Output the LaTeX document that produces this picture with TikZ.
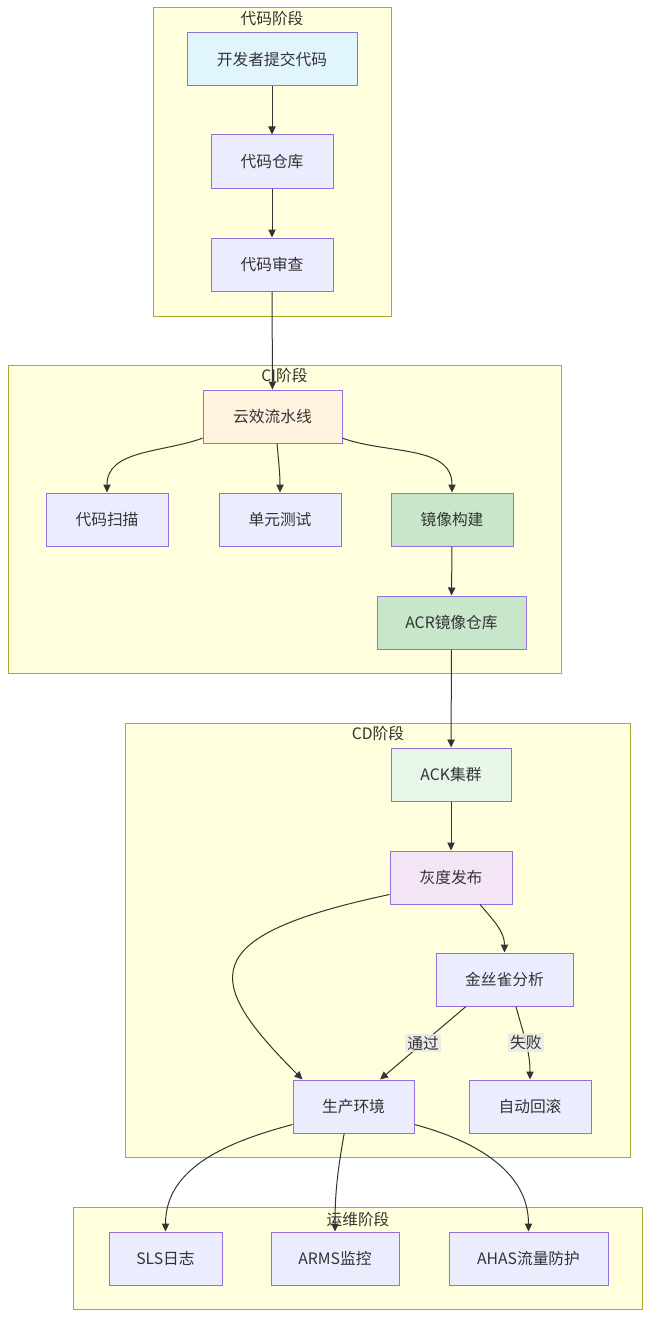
\documentclass[tikz,border=0pt]{standalone}
\usepackage{fontspec}
\setmainfont{Noto Sans CJK SC}
\usepackage{tikz}
\usetikzlibrary{arrows.meta, positioning}
\definecolor{grpfill}{RGB}{255,255,222}
\definecolor{grpdraw}{RGB}{170,170,51}
\definecolor{nodefill}{RGB}{236,236,255}
\definecolor{nodedraw}{RGB}{147,112,219}
\definecolor{hdrblue}{RGB}{225,245,254}
\definecolor{hdrorange}{RGB}{255,243,224}
\definecolor{hdrgreen}{RGB}{200,230,201}
\definecolor{hdrmint}{RGB}{232,245,233}
\definecolor{hdrpink}{RGB}{243,229,245}
\definecolor{mydark}{RGB}{51,51,51}
\definecolor{lblgray}{RGB}{232,232,232}
\tikzset{
  stage/.style={draw=grpdraw, fill=grpfill, line width=0.75pt},
  stagetitle/.style={inner sep=0pt, text=mydark},
  proc/.style={rectangle, draw=nodedraw, fill=nodefill,
    minimum width=91.5pt, minimum height=39.75pt,
    inner sep=0pt, text=mydark, line width=0.75pt},
  arrow/.style={-{Triangle[length=6pt, width=5.5pt]}, color=mydark, line width=0.75pt},
  elabel/.style={fill=lblgray, fill opacity=0.8, text opacity=1,
    inner sep=1.5pt, text=mydark}
}

\begin{document}
\begin{tikzpicture}[x=0.75pt, y=0.75pt, every node/.style={font=\fontsize{11.8}{14}\selectfont}]
  \useasboundingbox (0,0) rectangle (659,-1334);

  % stage boxes
  \draw[stage] (153,-8) rectangle (391,-316);
  \draw[stage] (8,-365) rectangle (561,-673);
  \draw[stage] (125,-723) rectangle (630,-1157);
  \draw[stage] (73,-1207) rectangle (642,-1309);
  \node[stagetitle] (t1) at (272,-18.5) {代码阶段};
  \node[stagetitle] (t2) at (284.5,-376) {CI阶段};
  \node[stagetitle] (t3) at (378,-733.5) {CD阶段};
  \node[stagetitle] (t4) at (358,-1219) {运维阶段};

  % code stage
  \node[proc, fill=hdrblue, minimum width=127.5pt] (dev) at (272,-59.5) {开发者提交代码};
  \node[proc] (repo) at (272,-161.5) {代码仓库};
  \node[proc] (review) at (272,-264.5) {代码审查};

  % CI stage
  \node[proc, fill=hdrorange, minimum width=104.25pt] (yx) at (272.5,-416.5) {云效流水线};
  \node[proc] (scan) at (107,-519.5) {代码扫描};
  \node[proc] (test) at (280,-519.5) {单元测试};
  \node[proc, fill=hdrgreen] (build) at (452,-519.5) {镜像构建};
  \node[proc, fill=hdrgreen, minimum width=111.75pt] (acr) at (451.5,-622.5) {ACR镜像仓库};

  % CD stage
  \node[proc, fill=hdrmint, minimum width=90pt] (ack) at (451,-774.5) {ACK集群};
  \node[proc, fill=hdrpink] (gray) at (451,-877.5) {灰度发布};
  \node[proc, minimum width=102.75pt] (canary) at (504.5,-979.5) {金丝雀分析};
  \node[proc, minimum width=90.75pt] (prod) at (353.5,-1106.5) {生产环境};
  \node[proc] (rollback) at (530,-1106.5) {自动回滚};

  % ops stage
  \node[proc, minimum width=84.75pt] (sls) at (165.5,-1258.5) {SLS日志};
  \node[proc, minimum width=96pt] (arms) at (335,-1258.5) {ARMS监控};
  \node[proc, minimum width=119.25pt] (ahas) at (528.5,-1258.5) {AHAS流量防护};

  % edges
  \draw[arrow] (dev) -- (repo);
  \draw[arrow] (repo) -- (review);
  \draw[arrow] (review) -- (yx);
  \draw[arrow] ([yshift=4pt]yx.south west) to[out=200, in=90] (scan.north);
  \draw[arrow] ([xshift=3.4pt]yx.south) to[out=-85, in=90] (test.north);
  \draw[arrow] ([yshift=4pt]yx.south east) to[out=-20, in=90] (build.north);
  \draw[arrow] (build) -- (acr);
  \draw[arrow] (acr) -- (ack);
  \draw[arrow] (ack) -- (gray);
  \draw[arrow] ([yshift=7.5pt]gray.south west) .. controls +(192:150pt) and +(135:105pt) .. ([xshift=7.5pt]prod.north west);
  \draw[arrow] ([xshift=21.75pt]gray.south) to[out=-50, in=90] (canary.north);
  \draw[arrow] ([xshift=-28.9pt]canary.south) -- node[elabel] {通过} ([xshift=19.9pt]prod.north);
  \draw[arrow] ([xshift=8.6pt]canary.south) to[out=-75, in=90] node[elabel] {失败} (rollback.north);
  \draw[arrow] ([yshift=6.75pt]prod.south west) to[out=195, in=90] (sls.north);
  \draw[arrow] ([xshift=-7pt]prod.south) to[out=-100, in=90] (arms.north);
  \draw[arrow] ([yshift=6.75pt]prod.south east) to[out=-15, in=90] (ahas.north);
\end{tikzpicture}
\end{document}
